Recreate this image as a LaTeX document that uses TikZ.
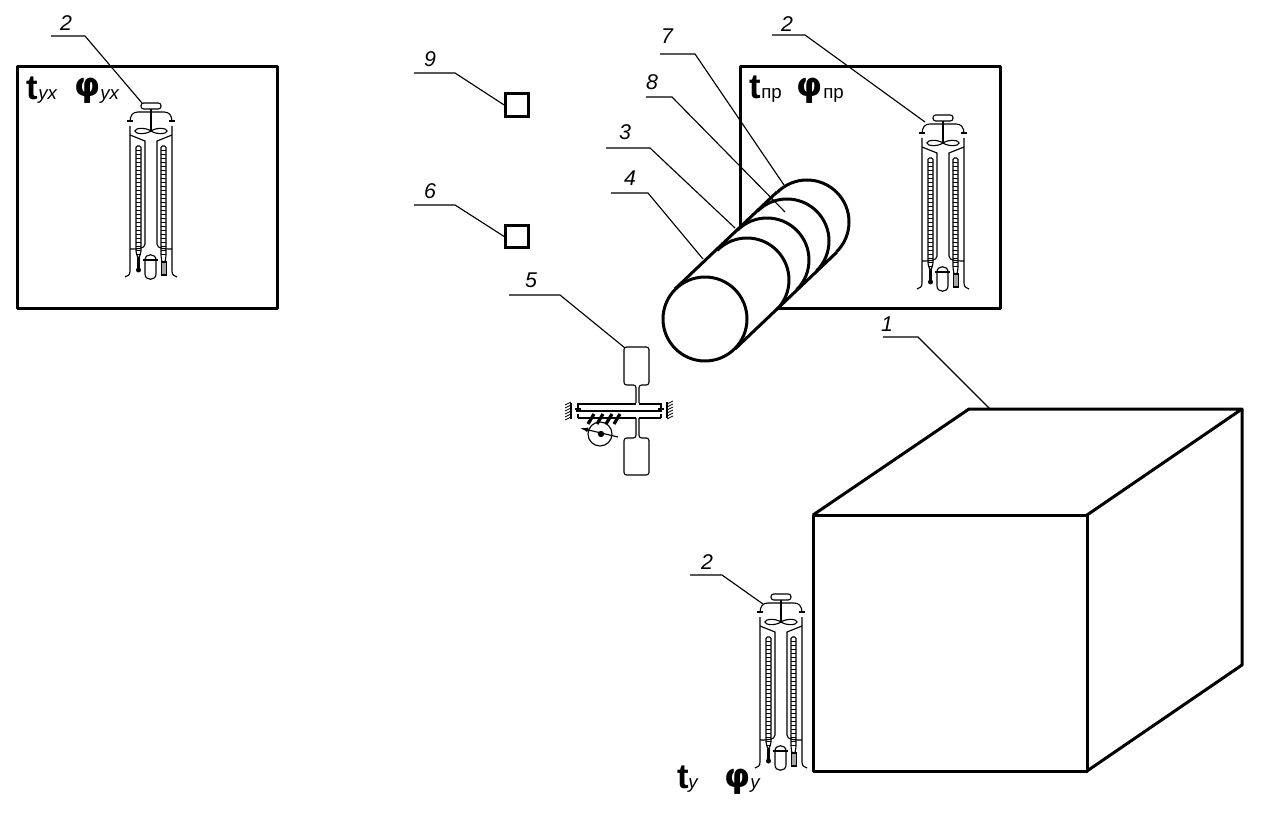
\documentclass[tikz,border=0pt]{standalone}
\usepackage{fontspec}
\setmainfont{Liberation Sans}
\usetikzlibrary{arrows.meta}
\newfontfamily\dv{DejaVu Sans}
\tikzset{
  x=0.75pt,y=-0.75pt,
  thin line/.style={line width=0.85pt,black},
  thick line/.style={line width=2.25pt,black,line join=round},
  numlabel/.style={font=\fontsize{16}{16}\selectfont\itshape,inner sep=0pt,anchor=center},
  big/.style={font=\fontsize{26}{26}\selectfont\bfseries,inner sep=0pt,anchor=base west},
  phi/.style={font=\dv\fontsize{25}{25}\selectfont\bfseries,inner sep=0pt,anchor=base west},
  sub/.style={font=\fontsize{14}{14}\selectfont\itshape,inner sep=0pt,anchor=base west},
  subr/.style={font=\fontsize{14}{14}\selectfont,inner sep=0pt,anchor=base west},
  sq/.style={draw,line width=2.25pt,minimum width=17pt,minimum height=17pt,inner sep=0pt,fill=white},
  psy/.pic={
    \begin{scope}[thin line]
      % cap and rod
      \draw[rounded corners=2] (-10,-3) rectangle (10,3);
      \draw (0,3) -- (0,25);
      % dome
      \draw (-21,16) .. controls (-21,9) and (-18,6) .. (-13,6) -- (13,6)
         .. controls (18,6) and (21,9) .. (21,16);
      \draw (-24,15) -- (-18,15) (18,15) -- (24,15);
      % propeller
      \draw (0,25) .. controls (-6,21) and (-16,22) .. (-16,25) .. controls (-16,28) and (-6,29) .. (0,25)
            .. controls (6,21) and (16,22) .. (16,25) .. controls (16,28) and (6,29) .. (0,25);
      % outer walls
      \draw (-21,20) -- (-21,165) .. controls (-21,169) and (-23,170) .. (-26,171);
      \draw (21,20) -- (21,165) .. controls (21,169) and (23,170) .. (26,171);
      % inner walls
      \draw (-21,29) -- (-6,35) -- (-6,138) .. controls (-6,143) and (-14,143) .. (-21,143);
      \draw (21,29) -- (6,35) -- (6,138) .. controls (6,143) and (14,143) .. (21,143);
      % thermometer tubes
      \draw[rounded corners=1] (-13,152) -- (-15,146) -- (-15,40) -- (-10,40) -- (-10,146) -- (-12,152);
      \draw[rounded corners=1] (11,156) -- (10,150) -- (10,40) -- (15,40) -- (15,150) -- (14,156);
      \foreach \yy in {44,48,...,148} {
        \draw[line width=0.6pt] (-15,\yy) -- (-10,\yy);
        \draw[line width=0.6pt] (10,\yy) -- (15,\yy);
      }
      % dry bulb
      \draw[line width=1.8pt] (-12.5,152) -- (-12.5,162);
      \fill (-12.5,164) circle (2.5);
      % wet bulb
      \draw[fill=gray!70] (10.5,156) rectangle (15.5,169);
      % loop
      \draw (-6,154) .. controls (-6,147) and (5,147) .. (5,154) -- (5,168)
            .. controls (5,175) and (-6,175) .. (-6,168) -- cycle;
      \draw (-8,154) -- (7,154);
    \end{scope}
  }
}
\begin{document}
\begin{tikzpicture}
\useasboundingbox (0,0) rectangle (1275,834);
% boxes
\draw[thick line] (17,67) rectangle (277,309);
\draw[thick line] (740,67) rectangle (1000,309);
% text
\node[big] (tL) at (26,100) {t};
\node[sub] (tLs) at (38,100) {ух};
\node[phi] (fL) at (74,97) {φ};
\node[sub] (fLs) at (100,100) {ух};
\node[big] (tR) at (749,99) {t};
\node[subr] (tRs) at (761,99) {пр};
\node[phi] (fR) at (796,97) {φ};
\node[subr] (fRs) at (823,99) {пр};
\node[big] (tB) at (677,788) {t};
\node[sub] (tBs) at (688,788) {у};
\node[phi] (fB) at (724,787) {φ};
\node[sub] (fBs) at (750,788) {у};
% psychrometers
\pic at (151,106) {psy};
\pic at (943,118) {psy};
\pic at (781,597) {psy};
% cylinder
\fill[white] (675,289) -- (777,192) -- (837,252) -- (735,349) -- cycle;
\fill[white] (807,222) circle (42);
\draw[thick line,fill=white] (705,319) circle (42);
\foreach \cx/\cy in {747/280,767/260,787/241,807/222}{
  \draw[thick line] (\cx,\cy) ++(225:42) arc (225:405:42);
}
\draw[thick line] (675,289) -- (777,192);
\draw[thick line] (735,349) -- (837,252);
% squares
\node[sq] (s9) at (517,105) {};
\node[sq] (s6) at (517,236.5) {};
% cube
\draw[thick line] (813,515) rectangle (1087,771);
\draw[thick line] (813,515) -- (969,409) -- (1242,409) -- (1087,515);
\draw[thick line] (1242,409) -- (1242,665) -- (1087,771);
% mechanism 5
\begin{scope}[thin line]
  \draw[rounded corners=2] (636,403) -- (636,385) -- (624,385) -- (624,347) -- (649,347) -- (649,385) -- (639,385) -- (639,403);
  \draw (577,404) -- (636,404) (639,404) -- (662,404);
  \draw (578,404) -- (578,408) (661,404) -- (661,408);
  \draw (575,409) -- (581,409) (658,409) -- (664,409);
  \draw[line width=1.5pt] (576,411) -- (662,411);
  \draw (578,414) -- (578,418) (661,414) -- (661,418);
  \draw (578,418) -- (636,418) (639,418) -- (661,418);
  \draw[rounded corners=2] (636,418) -- (636,438) -- (624,438) -- (624,475) -- (649,475) -- (649,438) -- (639,438) -- (639,418);
  \draw (571,403) -- (571,419) (667,402) -- (667,418);
  \foreach \yy in {404,407,...,419}{
    \draw[line width=0.6pt] (565,\yy+1) -- (571,\yy-2);
    \draw[line width=0.6pt] (667,\yy) -- (673,\yy-3);
  }
  \draw (600,434) circle (12);
  \fill (601,434) circle (3.2);
  \draw[-{Latex[length=6pt,width=3.5pt]}] (618,437) -- (580,428);
  \foreach \xx in {588,597,606,614}{
    \draw[line width=2.4pt] (\xx,424) -- (\xx+6,414);
  }
\end{scope}
% leaders
\coordinate (a2) at (142,103);
\coordinate (b2) at (925,122);
\coordinate (c2) at (763,604);
\draw[thin line] (51,36) -- (85,36) -- (a2);
\draw[thin line] (772,35) -- (805,35) -- (b2);
\draw[thin line] (690,575) -- (722,575) -- (c2);
\draw[thin line] (414,73) -- (455,73) -- (s9.west);
\draw[thin line] (414,205) -- (455,205) -- (s6.west);
\draw[thin line] (660,54) -- (695,54) -- (784,185);
\draw[thin line] (646,97) -- (672,97) -- (785,212);
\draw[thin line] (606,148) -- (650,148) -- (735,228);
\draw[thin line] (611,193) -- (648,193) -- (703,259);
\draw[thin line] (509,295) -- (560,295) -- (625,348);
\draw[thin line] (883,337) -- (918,337) -- (990,409);
% numbers
\node[numlabel] (n2a) at (66,23) {2};
\node[numlabel] (n2b) at (787,24) {2};
\node[numlabel] (n2c) at (707,562) {2};
\node[numlabel] (n9) at (430,59) {9};
\node[numlabel] (n6) at (430,191) {6};
\node[numlabel] (n7) at (667,36) {7};
\node[numlabel] (n8) at (652,82) {8};
\node[numlabel] (n3) at (625,132) {3};
\node[numlabel] (n4) at (630,178) {4};
\node[numlabel] (n5) at (531,280) {5};
\node[numlabel] (n1) at (887,324) {1};
\end{tikzpicture}
\end{document}
